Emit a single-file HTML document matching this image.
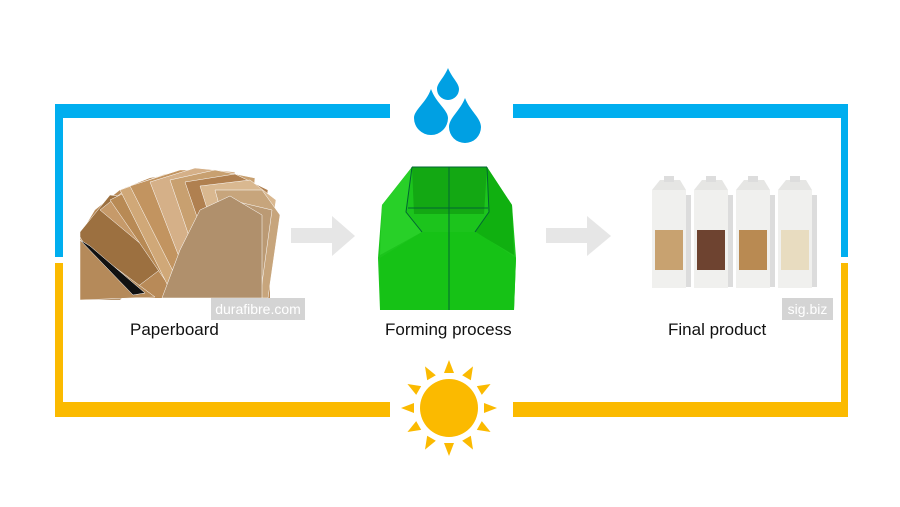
<!DOCTYPE html>
<html><head><style>
body{margin:0;background:#fff;width:900px;height:507px;overflow:hidden;font-family:"Liberation Sans",sans-serif}
.t{position:absolute;font-size:17px;color:#111;white-space:nowrap}
.tag{position:absolute;background:#d4d4d4;color:#fff;font-size:14px;text-align:center;line-height:22px}
</style></head><body>
<svg width="900" height="507" style="position:absolute;left:0;top:0">
<path d="M55 257 V104 H390 V118 H63 V257 Z" fill="#00aeef"/>
<path d="M848 257 V104 H513 V118 H841 V257 Z" fill="#00aeef"/>
<path d="M55 263 V417 H390 V402 H63 V263 Z" fill="#fbba00"/>
<path d="M848 263 V417 H513 V402 H841 V263 Z" fill="#fbba00"/>
<g fill="#00a0e3">
<path d="M448 68 C452 78 459 83 459 89 A11 11 0 0 1 437 89 C437 83 444 78 448 68Z"/>
<path d="M431 89 C436 103 448 110 448 118 A17 17 0 0 1 414 118 C414 110 426 103 431 89Z"/>
<path d="M465 98 C470 111 481 118 481 127 A16 16 0 0 1 449 127 C449 118 460 111 465 98Z"/>
</g>
<g fill="#fbba00">
<circle cx="449" cy="408" r="29"/>
<g id="r"><polygon points="449,360 444,373 454,373"/></g>
<use href="#r" transform="rotate(30 449 408)"/><use href="#r" transform="rotate(60 449 408)"/>
<use href="#r" transform="rotate(90 449 408)"/><use href="#r" transform="rotate(120 449 408)"/>
<use href="#r" transform="rotate(150 449 408)"/><use href="#r" transform="rotate(180 449 408)"/>
<use href="#r" transform="rotate(210 449 408)"/><use href="#r" transform="rotate(240 449 408)"/>
<use href="#r" transform="rotate(270 449 408)"/><use href="#r" transform="rotate(300 449 408)"/>
<use href="#r" transform="rotate(330 449 408)"/>
</g>
<polygon points="291,228 332,228 332,216 355,236 332,256 332,243 291,243" fill="#e6e6e6"/>
<polygon points="546,228 587,228 587,216 611,236 587,256 587,243 546,243" fill="#e6e6e6"/>
<!-- paperboard fan -->
<polygon points="80,235 95,210 120,190 150,178 185,172 220,173 250,182 270,200 270,298 80,298" fill="#b88a58"/>
<g stroke="#fff" stroke-width="0.5">
<polygon points="80,232 110,195 150,200 170,262 120,300 80,300" fill="#9c7040"/>
<polygon points="80,237 85,245 155,297 80,300" fill="#b58a5a"/>
<polygon points="80,240 90,246 145,293 133,295" fill="#111"/>
<polygon points="100,210 130,186 160,180 190,220 160,260" fill="#c69a6a"/>
<polygon points="110,200 150,180 185,178 200,240 165,280" fill="#b88a55"/>
<polygon points="120,190 165,174 200,172 205,250 170,290" fill="#d0a878"/>
<polygon points="130,186 180,170 215,170 215,260 185,295" fill="#c29460"/>
<polygon points="150,182 195,168 235,172 230,270 195,298" fill="#d5b088"/>
<polygon points="170,180 215,170 255,178 245,280 210,298" fill="#c8a070"/>
<polygon points="185,182 235,174 268,190 255,290 225,298" fill="#b08050"/>
<polygon points="200,186 250,180 276,200 262,295 235,298" fill="#d9b890"/>
<polygon points="215,190 262,190 280,215 268,298 245,298" fill="#c7a57c"/>
<polygon points="230,200 272,210 260,298 225,298" fill="#bb9a74"/>
<polygon points="200,210 230,196 262,215 262,298 162,298 180,250" fill="#b0906c"/>
</g>
<polygon points="378,258 382,205 412,167 487,167 512,205 516,258 514,310 380,310" fill="#1cc41c"/>
<polygon points="412,167 487,167 484,214 414,214" fill="#13a813"/>
<polygon points="382,205 412,167 406,212 422,232 380,255" fill="#28d028"/>
<polygon points="512,205 487,167 489,212 475,232 514,255" fill="#10b010"/>
<polygon points="380,258 422,232 476,232 516,258 514,310 380,310" fill="#16c216"/>
<g stroke="#063" stroke-width="1" fill="none">
<path d="M412 167 L406 212 L422 232 M487 167 L489 212 L475 232 M412 167 H487 M449 167 V310 M408 208 H488"/>
</g>
<g>
<g id="c"><rect x="652" y="190" width="34" height="98" fill="#f0f0ee"/><polygon points="652,190 686,190 680,180 660,180" fill="#e6e6e4"/><rect x="664" y="176" width="10" height="6" fill="#ddd"/><rect x="686" y="195" width="5" height="92" fill="#dcdcdc"/></g>
<use href="#c" x="42"/><use href="#c" x="84"/><use href="#c" x="126"/>
<rect x="655" y="230" width="28" height="40" fill="#c8a270"/>
<rect x="697" y="230" width="28" height="40" fill="#6e4330"/>
<rect x="739" y="230" width="28" height="40" fill="#b98a52"/>
<rect x="781" y="230" width="28" height="40" fill="#e8dcc0"/>
</g>
</svg>
<div class="tag" style="left:211px;top:298px;width:94px">durafibre.com</div>
<div class="tag" style="left:782px;top:298px;width:51px">sig.biz</div>
<div class="t" style="left:130px;top:320px">Paperboard</div>
<div class="t" style="left:385px;top:320px">Forming process</div>
<div class="t" style="left:668px;top:320px">Final product</div>
</body></html>
